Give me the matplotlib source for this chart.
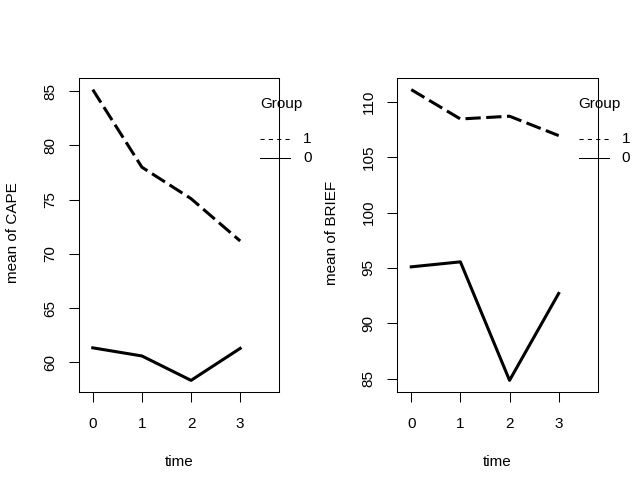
import matplotlib
matplotlib.use('Agg')
import matplotlib.pyplot as plt

plt.rcParams['font.family'] = ['Liberation Sans', 'DejaVu Sans']

# data
time = [0, 1, 2, 3]
cape_g1 = [85.15, 78.0, 75.1, 71.2]
cape_g0 = [61.35, 60.6, 58.35, 61.3]
brief_g1 = [111.1, 108.45, 108.7, 106.95]
brief_g0 = [95.1, 95.55, 84.85, 92.7]
cape_ticks = [60, 65, 70, 75, 80, 85]
brief_ticks = [85, 90, 95, 100, 105, 110]
group_labels = ['1', '0']

W, H = 638, 490
FS = 11
f = plt.figure(figsize=(W / 100, H / 100), dpi=100)


def panel(left_px, g1, g0, yticks, ylabel, ylab_x):
    ax = f.add_axes([left_px / W, (H - 392) / H, 200 / W, 314 / H])
    ax.plot(time, g1, color='black', lw=2.2, linestyle=(0, (5, 1.8)), solid_capstyle='butt')
    ax.plot(time, g0, color='black', lw=2.2)
    lo = min(min(g1), min(g0))
    hi = max(max(g1), max(g0))
    pad = 0.04 * (hi - lo)
    ax.set_ylim(lo - pad, hi + pad)
    ax.set_xlim(-0.28, 3.79)
    ax.set_xticks(time)
    ax.set_yticks(yticks)
    ax.set_yticklabels([str(t) for t in yticks], rotation=90, va='center')
    ax.tick_params(axis='both', direction='out', length=7.2, width=0.75, labelsize=FS)
    ax.tick_params(axis='y', pad=8.5)
    ax.tick_params(axis='x', pad=10.5)
    for s in ax.spines.values():
        s.set_linewidth(0.75)
    f.text(ylab_x / W, 1 - 233 / H, ylabel, rotation=90, ha='center', va='center', fontsize=FS)
    f.text((left_px + 100) / W, 1 - 461.5 / H, 'time', ha='center', va='center', fontsize=FS)

    # legend drawn outside the box like R's interaction.plot
    ax.text(0.905, 0.917, 'Group', transform=ax.transAxes, fontsize=FS,
            ha='left', va='center', clip_on=False)
    ys = [0.806, 0.745]
    styles = [(0, (4, 4)), '-']
    for yy, st, lab in zip(ys, styles, group_labels):
        ax.plot([0.905, 1.055], [yy, yy], transform=ax.transAxes, color='black',
                lw=0.75, linestyle=st, clip_on=False)
        ax.text(1.12, yy, lab, transform=ax.transAxes, fontsize=FS,
                ha='left', va='center', clip_on=False)
    return ax


panel(79, cape_g1, cape_g0, cape_ticks, 'mean of CAPE', 13)
panel(397.5, brief_g1, brief_g0, brief_ticks, 'mean of BRIEF', 332)

f.savefig('out.png', dpi=100)
